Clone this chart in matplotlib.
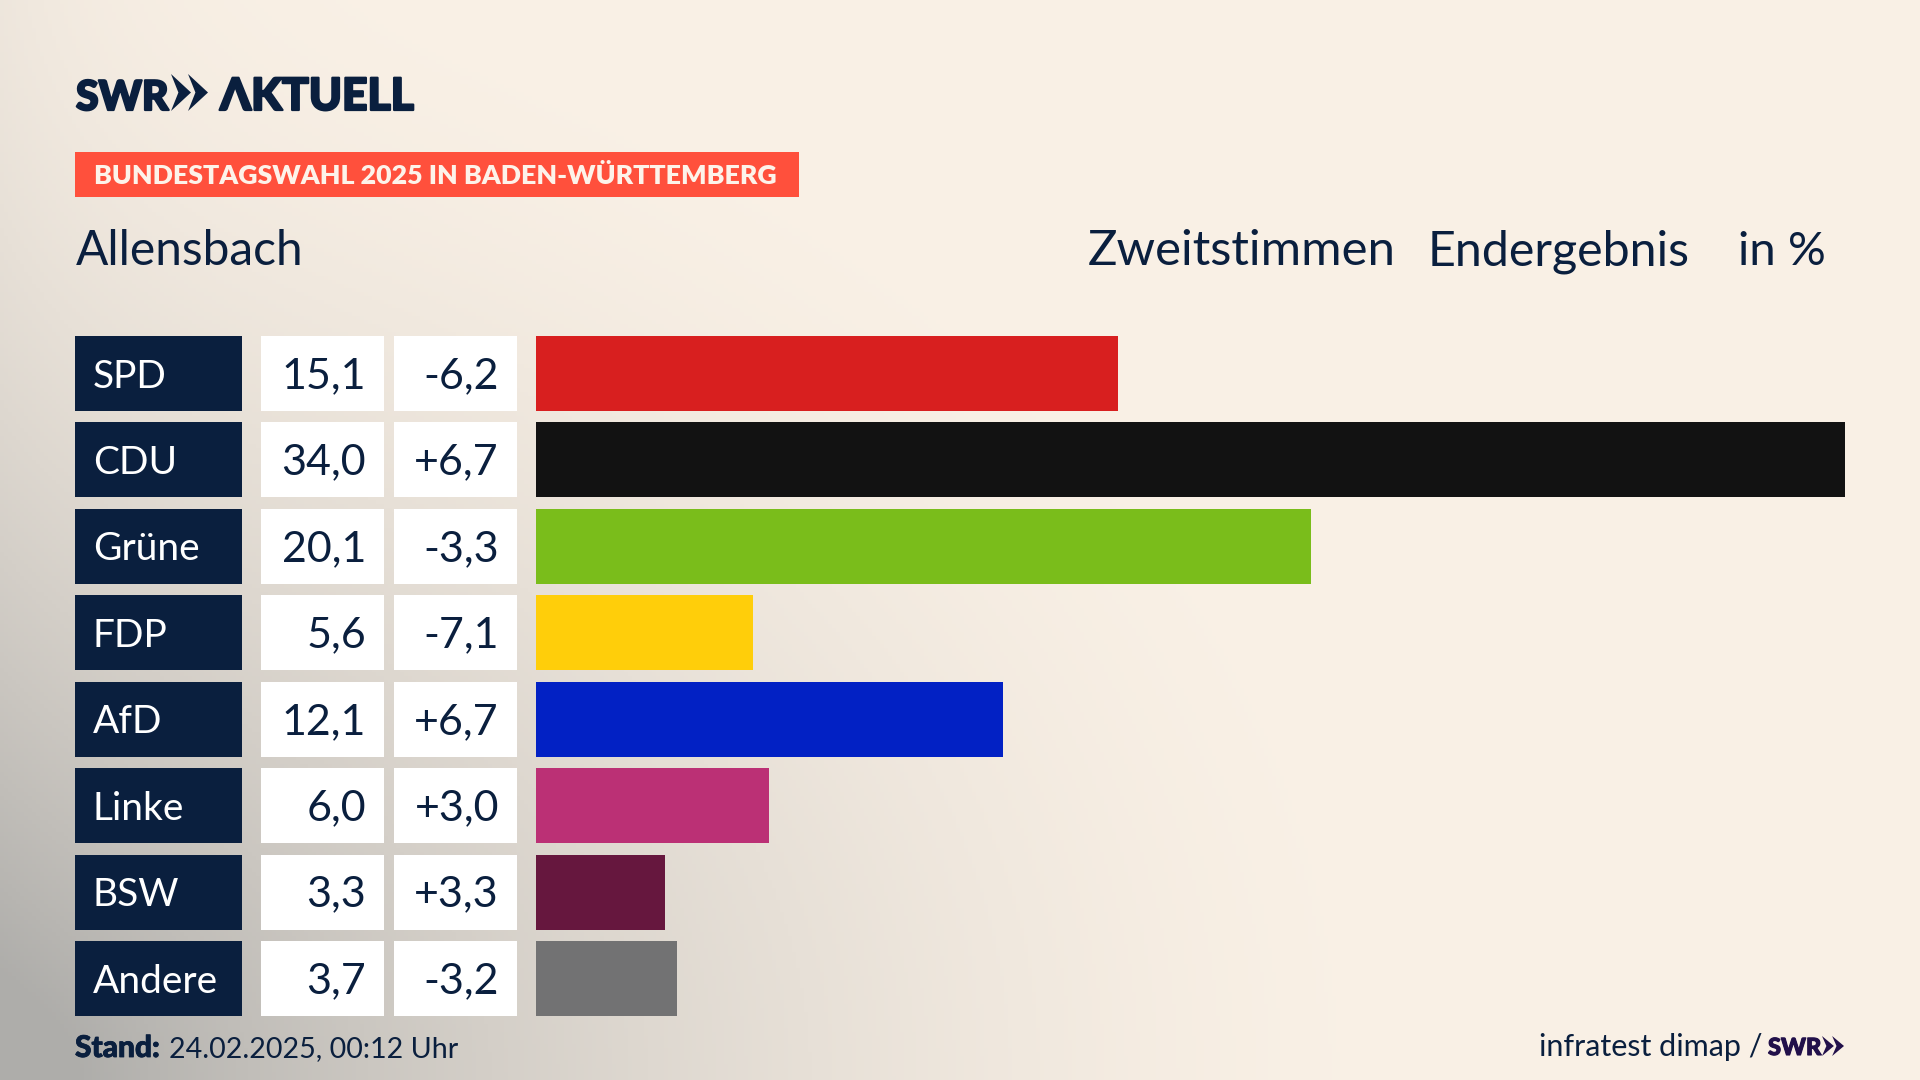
import numpy as np
from matplotlib import pyplot as plt
from matplotlib.patches import Rectangle, Polygon
from matplotlib import patheffects

parties = ["SPD", "CDU", "Grüne", "FDP", "AfD", "Linke", "BSW", "Andere"]
# bar lengths, they round to the printed labels
shares = [15.12, 34.0, 20.14, 5.63, 12.14, 6.04, 3.35, 3.66]
share_labels = ["15,1", "34,0", "20,1", "5,6", "12,1", "6,0", "3,3", "3,7"]
change_labels = ["-6,2", "+6,7", "-3,3", "-7,1", "+6,7", "+3,0", "+3,3", "-3,2"]
colors = ["#d81f1f", "#121212", "#7abd1b", "#ffce0a", "#0221c4", "#bb3075", "#66173e", "#727273"]

NAVY = "#0a1f3e"
PURPLE = "#22104a"
FONT = "Lato"
ROW_TOP = 336
ROW_H = 75
ROW_STEP = 86.43
W, H = 1920, 1080

plt.rcParams["font.family"] = [FONT, "DejaVu Sans"]
fig = plt.figure(figsize=(W / 100, H / 100), dpi=100)

# page in pixel coordinates, everything but the bars sits on this one
page = fig.add_axes([0, 0, 1, 1])
page.set_xlim(0, W)
page.set_ylim(H, 0)
page.axis("off")

# background: cream with grey coming in from the bottom left
xx, yy = np.meshgrid(np.arange(0, W, 4), np.arange(0, H, 4))
fade = np.clip(1 - np.sqrt((xx / 1450) ** 2 + ((H - yy) / 1150) ** 2), 0, 1) ** 1.7
fade = np.clip(fade + 0.15 * np.exp(-xx / 130), 0, 1)
cream = np.array([250, 241, 230]) / 255
grey = np.array([174, 173, 170]) / 255
bg = cream + (grey - cream) * fade[..., None]
page.imshow(bg, extent=(0, W, H, 0), aspect="auto", zorder=0)
page.set_xlim(0, W)
page.set_ylim(H, 0)


def thick(lw, color):
    return [patheffects.withStroke(linewidth=lw, foreground=color)]


# logo
page.text(76, 110, "SWR", color=NAVY, fontsize=29.5, fontweight="black", va="baseline", path_effects=thick(1.6, NAVY))
page.text(220, 110, "ΛKTUELL", color=NAVY, fontsize=32, fontweight="black", va="baseline", path_effects=thick(1.6, NAVY))


def chevrons(x, y, w, h, color):
    # two darts, w and h are the size of the pair
    for x0 in (x, x + w * 0.46):
        pts = [(x0, y), (x0 + w * 0.54, y + h / 2), (x0, y + h), (x0 + w * 0.2, y + h / 2)]
        page.add_patch(Polygon(pts, closed=True, color=color, lw=0, zorder=3))


chevrons(171, 74, 37, 37, NAVY)

# red tag
page.add_patch(Rectangle((75, 152), 724, 45, color="#ff503c", lw=0, zorder=2))
page.text(94, 184, "BUNDESTAGSWAHL 2025 IN BADEN-WÜRTTEMBERG", color="#fdf3ea", fontsize=19.3, fontweight="heavy", va="baseline", zorder=3)

# header line
page.text(76, 265, "Allensbach", color=NAVY, fontsize=34.5, va="baseline")
page.text(1088, 265, "Zweitstimmen", color=NAVY, fontsize=35.4, va="baseline")
page.text(1428, 265, "Endergebnis", color=NAVY, fontsize=34.8, va="baseline")
page.text(1738, 265, "in %", color=NAVY, fontsize=34, va="baseline")

# table columns
for i, party in enumerate(parties):
    top = ROW_TOP + i * ROW_STEP
    base = top + ROW_H / 2 + 14
    page.add_patch(Rectangle((75, top), 167, ROW_H, color=NAVY, lw=0, zorder=2))
    page.add_patch(Rectangle((261, top), 123, ROW_H, color="white", lw=0, zorder=2))
    page.add_patch(Rectangle((394, top), 123, ROW_H, color="white", lw=0, zorder=2))
    page.text(93, base, party, color="white", fontsize=28, va="baseline", zorder=3)
    page.text(366, base + 0.5, share_labels[i], color=NAVY, fontsize=31, ha="right", va="baseline", zorder=3)
    page.text(499, base + 0.5, change_labels[i], color=NAVY, fontsize=31, ha="right", va="baseline", zorder=3)

# footer
page.text(75, 1057, "Stand:", color=NAVY, fontsize=21.5, fontweight="black", va="baseline", path_effects=thick(0.6, NAVY))
page.text(169, 1057, "24.02.2025, 00:12 Uhr", color=NAVY, fontsize=20.6, va="baseline")
page.text(1539, 1056, "infratest dimap /", color=NAVY, fontsize=22, va="baseline")
page.text(1768, 1055, "SWR", color=PURPLE, fontsize=17, fontweight="black", va="baseline", path_effects=thick(0.8, PURPLE))
chevrons(1822, 1036, 22, 20, PURPLE)

# bars
bar_left, bar_right = 536, 1845
bar_top, bar_bottom = ROW_TOP, ROW_TOP + 7 * ROW_STEP + ROW_H
ax = fig.add_axes([bar_left / W, 1 - bar_bottom / H, (bar_right - bar_left) / W, (bar_bottom - bar_top) / H])
ax.patch.set_alpha(0)
bar_h = ROW_H / ROW_STEP
ax.barh(range(len(parties)), shares, height=bar_h, color=colors)
ax.set_xlim(0, max(shares))
ax.set_ylim(len(parties) - 1 + bar_h / 2, -bar_h / 2)
ax.axis("off")

fig.savefig("out.png", dpi=100)
